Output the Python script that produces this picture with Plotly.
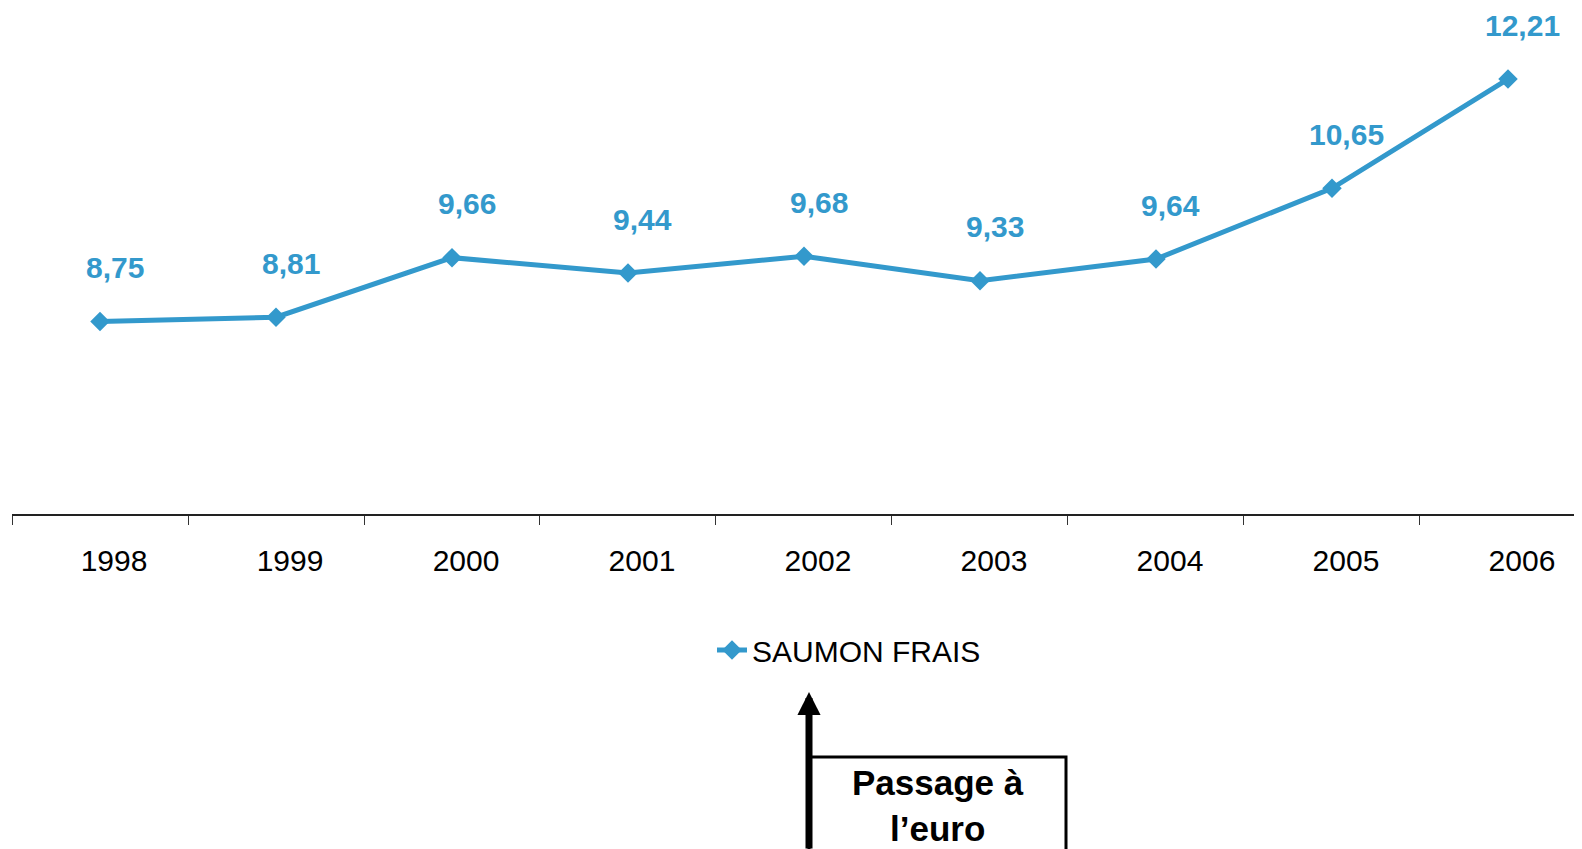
import plotly.graph_objects as go

years = ["1998", "1999", "2000", "2001", "2002", "2003", "2004", "2005", "2006"]
prix = [8.75, 8.81, 9.66, 9.44, 9.68, 9.33, 9.64, 10.65, 12.21]
serie = "SAUMON FRAIS"
labels = [f"{v:.2f}".replace(".", ",") for v in prix]

BLUE = "#3399cc"
FONT = "Liberation Sans, Arial, sans-serif"

fig = go.Figure()
fig.add_trace(go.Scatter(
    x=years, y=prix, name=serie, mode="lines+markers",
    line=dict(color=BLUE, width=5),
    marker=dict(symbol="diamond", size=15, color=BLUE),
))

for i, (y, t) in enumerate(zip(prix, labels)):
    fig.add_annotation(x=i, y=y, xref="x", yref="y", text=f"<b>{t}</b>", showarrow=False,
                       xshift=15, yshift=54,
                       font=dict(family=FONT, size=30, color=BLUE))

W, H = 1582, 849
OFF = 8  # page body margin
L, T, B = 4, 0, 343
pw = W - L
ph = H - T - B

def px(xs):
    return (xs - OFF - L) / pw

def py(ys):
    return (H - B - (ys - OFF)) / ph

# arrow
fig.add_annotation(xref="paper", yref="paper", x=px(809), y=py(692),
                   ax=0, ay=200, text=" ", showarrow=True,
                   arrowhead=2, arrowsize=0.66, arrowwidth=7, arrowcolor="black")
# box
fig.add_shape(type="rect", xref="paper", yref="paper",
              x0=px(809), x1=px(1066), y0=py(757), y1=py(920),
              line=dict(color="black", width=3), fillcolor="rgba(0,0,0,0)")
fig.add_annotation(xref="paper", yref="paper", x=px(938), y=py(805),
                   yanchor="middle",
                   text="<b>Passage à<br>l’euro</b>", showarrow=False,
                   font=dict(family=FONT, size=35, color="black"))

fig.update_layout(
    template="none",
    width=W, height=H,
    margin=dict(l=L, r=0, t=T, b=B, autoexpand=False),
    paper_bgcolor="white", plot_bgcolor="white",
    font=dict(family=FONT, color="black"),
    showlegend=True,
    legend=dict(orientation="h", x=px(712), xanchor="left", y=py(650), yanchor="middle",
                font=dict(family=FONT, size=30, color="black"), bgcolor="rgba(0,0,0,0)"),
    xaxis=dict(type="category", range=[-0.5, 8.466], tickson="boundaries",
               automargin=False,
               ticks="outside", ticklen=9, tickcolor="#333", tickwidth=1,
               showline=True, linecolor="#222", linewidth=1.5,
               showgrid=False, zeroline=False,
               tickfont=dict(family=FONT, size=30, color="black"),
               ticklabelshift=14, ticklabelstandoff=19),
    yaxis=dict(range=[6, 13.224], visible=False, showgrid=False, zeroline=False,
               automargin=False),
)

fig.write_html("out.html")
